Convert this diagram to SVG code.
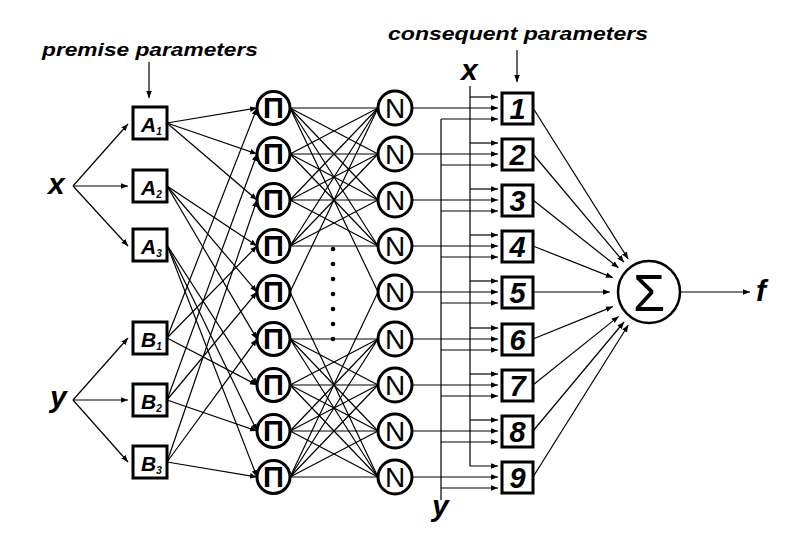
<svg xmlns="http://www.w3.org/2000/svg" width="800" height="541" viewBox="0 0 800 541">
<defs>
<marker id="ah" viewBox="0 0 10 10" refX="10" refY="5" markerWidth="7" markerHeight="7" markerUnits="userSpaceOnUse" orient="auto"><path d="M0,1 L10,5 L0,9 z" fill="#000"/></marker>
<style>
.ln{stroke:#000;stroke-width:1.2;fill:none}
.ar{marker-end:url(#ah)}
.box{fill:#fff;stroke:#000;stroke-width:3}
.circ{fill:#fff;stroke:#000;stroke-width:3}
.t{font-family:"Liberation Sans",Arial,sans-serif;fill:#000}
.bi{font-weight:bold;font-style:italic}
.lab{font-size:19px}
.var{font-size:30px}
.ml{font-size:21px}
.sub{font-size:10px}
.num{font-size:29px;text-anchor:middle}
.pi{font-size:29px;font-weight:bold;text-anchor:middle}
.nn{font-size:28px;text-anchor:middle}
</style>
</defs>
<rect width="800" height="541" fill="#fff"/>

<g id="connectors">
<path class="ln ar" d="M149,62 V98"/>
<path class="ln ar" d="M517,50 V82"/>
<path class="ln ar" d="M73,186 L128,124"/>
<path class="ln ar" d="M73,186 L128,186"/>
<path class="ln ar" d="M73,186 L128,246"/>
<path class="ln ar" d="M73,400 L128,338"/>
<path class="ln ar" d="M73,400 L128,400"/>
<path class="ln ar" d="M73,400 L128,462"/>
<path class="ln ar" d="M167,123 L257,108"/>
<path class="ln ar" d="M167,123 L257,154"/>
<path class="ln ar" d="M167,123 L257,200"/>
<path class="ln ar" d="M167,186 L257,246"/>
<path class="ln ar" d="M167,186 L257,292"/>
<path class="ln ar" d="M167,186 L257,339"/>
<path class="ln ar" d="M167,245 L257,385"/>
<path class="ln ar" d="M167,245 L257,431"/>
<path class="ln ar" d="M167,245 L257,477"/>
<path class="ln ar" d="M167,338 L257,108"/>
<path class="ln ar" d="M167,338 L257,246"/>
<path class="ln ar" d="M167,338 L257,385"/>
<path class="ln ar" d="M167,400 L257,154"/>
<path class="ln ar" d="M167,400 L257,292"/>
<path class="ln ar" d="M167,400 L257,431"/>
<path class="ln ar" d="M167,462 L257,200"/>
<path class="ln ar" d="M167,462 L257,339"/>
<path class="ln ar" d="M167,462 L257,477"/>
<path class="ln" d="M290,108 L378,108 M290,108 L378,154 M290,108 L378,200 M290,108 L378,246"/>
<path class="ln" d="M290,154 L378,108 M290,154 L378,154 M290,154 L378,200 M290,154 L378,246"/>
<path class="ln" d="M290,200 L378,108 M290,200 L378,154 M290,200 L378,200 M290,200 L378,246"/>
<path class="ln" d="M290,246 L378,108 M290,246 L378,154 M290,246 L378,200 M290,246 L378,246"/>
<path class="ln" d="M290,108 L378,292 M290,292 L378,108"/>
<path class="ln" d="M290,339 L378,339 M290,339 L378,385 M290,339 L378,431 M290,339 L378,477"/>
<path class="ln" d="M290,385 L378,339 M290,385 L378,385 M290,385 L378,431 M290,385 L378,477"/>
<path class="ln" d="M290,431 L378,339 M290,431 L378,385 M290,431 L378,431 M290,431 L378,477"/>
<path class="ln" d="M290,477 L378,339 M290,477 L378,385 M290,477 L378,431 M290,477 L378,477"/>
<path class="ln" d="M290,477 L378,292 M290,292 L378,477"/>
<path class="ln ar" d="M412,108 H498"/>
<path class="ln ar" d="M412,154 H498"/>
<path class="ln ar" d="M412,200 H498"/>
<path class="ln ar" d="M412,246 H498"/>
<path class="ln ar" d="M412,292 H498"/>
<path class="ln ar" d="M412,339 H498"/>
<path class="ln ar" d="M412,385 H498"/>
<path class="ln ar" d="M412,431 H498"/>
<path class="ln ar" d="M412,477 H498"/>
<path class="ln ar" d="M470,86 V466 H498"/>
<path class="ln ar" d="M470,97 H498"/>
<path class="ln ar" d="M470,143 H498"/>
<path class="ln ar" d="M470,189 H498"/>
<path class="ln ar" d="M470,235 H498"/>
<path class="ln ar" d="M470,281 H498"/>
<path class="ln ar" d="M470,328 H498"/>
<path class="ln ar" d="M470,374 H498"/>
<path class="ln ar" d="M470,420 H498"/>
<path class="ln" d="M441,119 V500"/>
<path class="ln ar" d="M441,119 H498"/>
<path class="ln ar" d="M441,165 H498"/>
<path class="ln ar" d="M441,211 H498"/>
<path class="ln ar" d="M441,257 H498"/>
<path class="ln ar" d="M441,303 H498"/>
<path class="ln ar" d="M441,350 H498"/>
<path class="ln ar" d="M441,396 H498"/>
<path class="ln ar" d="M441,442 H498"/>
<path class="ln ar" d="M441,488 H498"/>
<path class="ln ar" d="M533,108 L628.2,259"/>
<path class="ln ar" d="M533,154 L623.9,262.2"/>
<path class="ln ar" d="M533,200 L618.5,267.8"/>
<path class="ln ar" d="M533,246 L612.8,277.6"/>
<path class="ln ar" d="M533,292 L610,292"/>
<path class="ln ar" d="M533,339 L612.9,306.6"/>
<path class="ln ar" d="M533,385 L618.6,316.4"/>
<path class="ln ar" d="M533,431 L624,322"/>
<path class="ln ar" d="M533,477 L628.3,325"/>
<path class="ln ar" d="M680,292 H750"/>
</g>

<g id="dots" fill="#000">
<circle cx="333" cy="249" r="2.3"/>
<circle cx="333" cy="264" r="2.3"/>
<circle cx="333" cy="279" r="2.3"/>
<circle cx="333" cy="294" r="2.3"/>
<circle cx="333" cy="309" r="2.3"/>
<circle cx="333" cy="324" r="2.3"/>
<circle cx="333" cy="339" r="2.3"/>
</g>

<g id="labels">
<text class="t bi lab" x="42" y="56" textLength="216" lengthAdjust="spacingAndGlyphs">premise parameters</text>
<text class="t bi lab" x="388" y="40" textLength="260" lengthAdjust="spacingAndGlyphs">consequent parameters</text>
<text id="in-x" class="t bi var" x="48" y="194">x</text>
<text id="in-y" class="t bi var" x="50" y="407">y</text>
<text id="bus-x" class="t bi var" x="461" y="80">x</text>
<text id="bus-y" class="t bi var" x="432" y="516">y</text>
<text id="out-f" class="t bi var" x="756" y="301">f</text>
</g>

<g id="A1"><rect class="box" x="133" y="107" width="34" height="32"/><text class="t bi ml" x="141" y="132">A<tspan class="sub" dy="3">1</tspan></text></g>
<g id="A2"><rect class="box" x="133" y="170" width="34" height="32"/><text class="t bi ml" x="141" y="195">A<tspan class="sub" dy="3">2</tspan></text></g>
<g id="A3"><rect class="box" x="133" y="229" width="34" height="32"/><text class="t bi ml" x="141" y="254">A<tspan class="sub" dy="3">3</tspan></text></g>
<g id="B1"><rect class="box" x="133" y="322" width="34" height="32"/><text class="t bi ml" x="141" y="347">B<tspan class="sub" dy="3">1</tspan></text></g>
<g id="B2"><rect class="box" x="133" y="384" width="34" height="32"/><text class="t bi ml" x="141" y="409">B<tspan class="sub" dy="3">2</tspan></text></g>
<g id="B3"><rect class="box" x="133" y="446" width="34" height="32"/><text class="t bi ml" x="141" y="471">B<tspan class="sub" dy="3">3</tspan></text></g>

<g id="P1"><circle class="circ" cx="273.5" cy="108" r="16.5"/><text class="t pi" x="273.5" y="118">Π</text></g>
<g id="P2"><circle class="circ" cx="273.5" cy="154" r="16.5"/><text class="t pi" x="273.5" y="164">Π</text></g>
<g id="P3"><circle class="circ" cx="273.5" cy="200" r="16.5"/><text class="t pi" x="273.5" y="210">Π</text></g>
<g id="P4"><circle class="circ" cx="273.5" cy="246" r="16.5"/><text class="t pi" x="273.5" y="256">Π</text></g>
<g id="P5"><circle class="circ" cx="273.5" cy="292" r="16.5"/><text class="t pi" x="273.5" y="302">Π</text></g>
<g id="P6"><circle class="circ" cx="273.5" cy="339" r="16.5"/><text class="t pi" x="273.5" y="349">Π</text></g>
<g id="P7"><circle class="circ" cx="273.5" cy="385" r="16.5"/><text class="t pi" x="273.5" y="395">Π</text></g>
<g id="P8"><circle class="circ" cx="273.5" cy="431" r="16.5"/><text class="t pi" x="273.5" y="441">Π</text></g>
<g id="P9"><circle class="circ" cx="273.5" cy="477" r="16.5"/><text class="t pi" x="273.5" y="487">Π</text></g>

<g id="N1"><circle class="circ" cx="395" cy="108" r="17"/><text class="t nn" x="395" y="118">N</text></g>
<g id="N2"><circle class="circ" cx="395" cy="154" r="17"/><text class="t nn" x="395" y="164">N</text></g>
<g id="N3"><circle class="circ" cx="395" cy="200" r="17"/><text class="t nn" x="395" y="210">N</text></g>
<g id="N4"><circle class="circ" cx="395" cy="246" r="17"/><text class="t nn" x="395" y="256">N</text></g>
<g id="N5"><circle class="circ" cx="395" cy="292" r="17"/><text class="t nn" x="395" y="302">N</text></g>
<g id="N6"><circle class="circ" cx="395" cy="339" r="17"/><text class="t nn" x="395" y="349">N</text></g>
<g id="N7"><circle class="circ" cx="395" cy="385" r="17"/><text class="t nn" x="395" y="395">N</text></g>
<g id="N8"><circle class="circ" cx="395" cy="431" r="17"/><text class="t nn" x="395" y="441">N</text></g>
<g id="N9"><circle class="circ" cx="395" cy="477" r="17"/><text class="t nn" x="395" y="487">N</text></g>

<g id="C1"><rect class="box" x="502" y="93" width="31" height="31"/><text class="t bi num" x="517.5" y="119">1</text></g>
<g id="C2"><rect class="box" x="502" y="139" width="31" height="31"/><text class="t bi num" x="517.5" y="165">2</text></g>
<g id="C3"><rect class="box" x="502" y="185" width="31" height="31"/><text class="t bi num" x="517.5" y="211">3</text></g>
<g id="C4"><rect class="box" x="502" y="231" width="31" height="31"/><text class="t bi num" x="517.5" y="257">4</text></g>
<g id="C5"><rect class="box" x="502" y="277" width="31" height="31"/><text class="t bi num" x="517.5" y="303">5</text></g>
<g id="C6"><rect class="box" x="502" y="324" width="31" height="31"/><text class="t bi num" x="517.5" y="350">6</text></g>
<g id="C7"><rect class="box" x="502" y="370" width="31" height="31"/><text class="t bi num" x="517.5" y="396">7</text></g>
<g id="C8"><rect class="box" x="502" y="416" width="31" height="31"/><text class="t bi num" x="517.5" y="442">8</text></g>
<g id="C9"><rect class="box" x="502" y="462" width="31" height="31"/><text class="t bi num" x="517.5" y="488">9</text></g>

<g id="SUM"><circle cx="649" cy="292" r="31" fill="#fff" stroke="#000" stroke-width="2.5"/><text class="t" x="649" y="311" font-size="52" text-anchor="middle">Σ</text></g>
</svg>
